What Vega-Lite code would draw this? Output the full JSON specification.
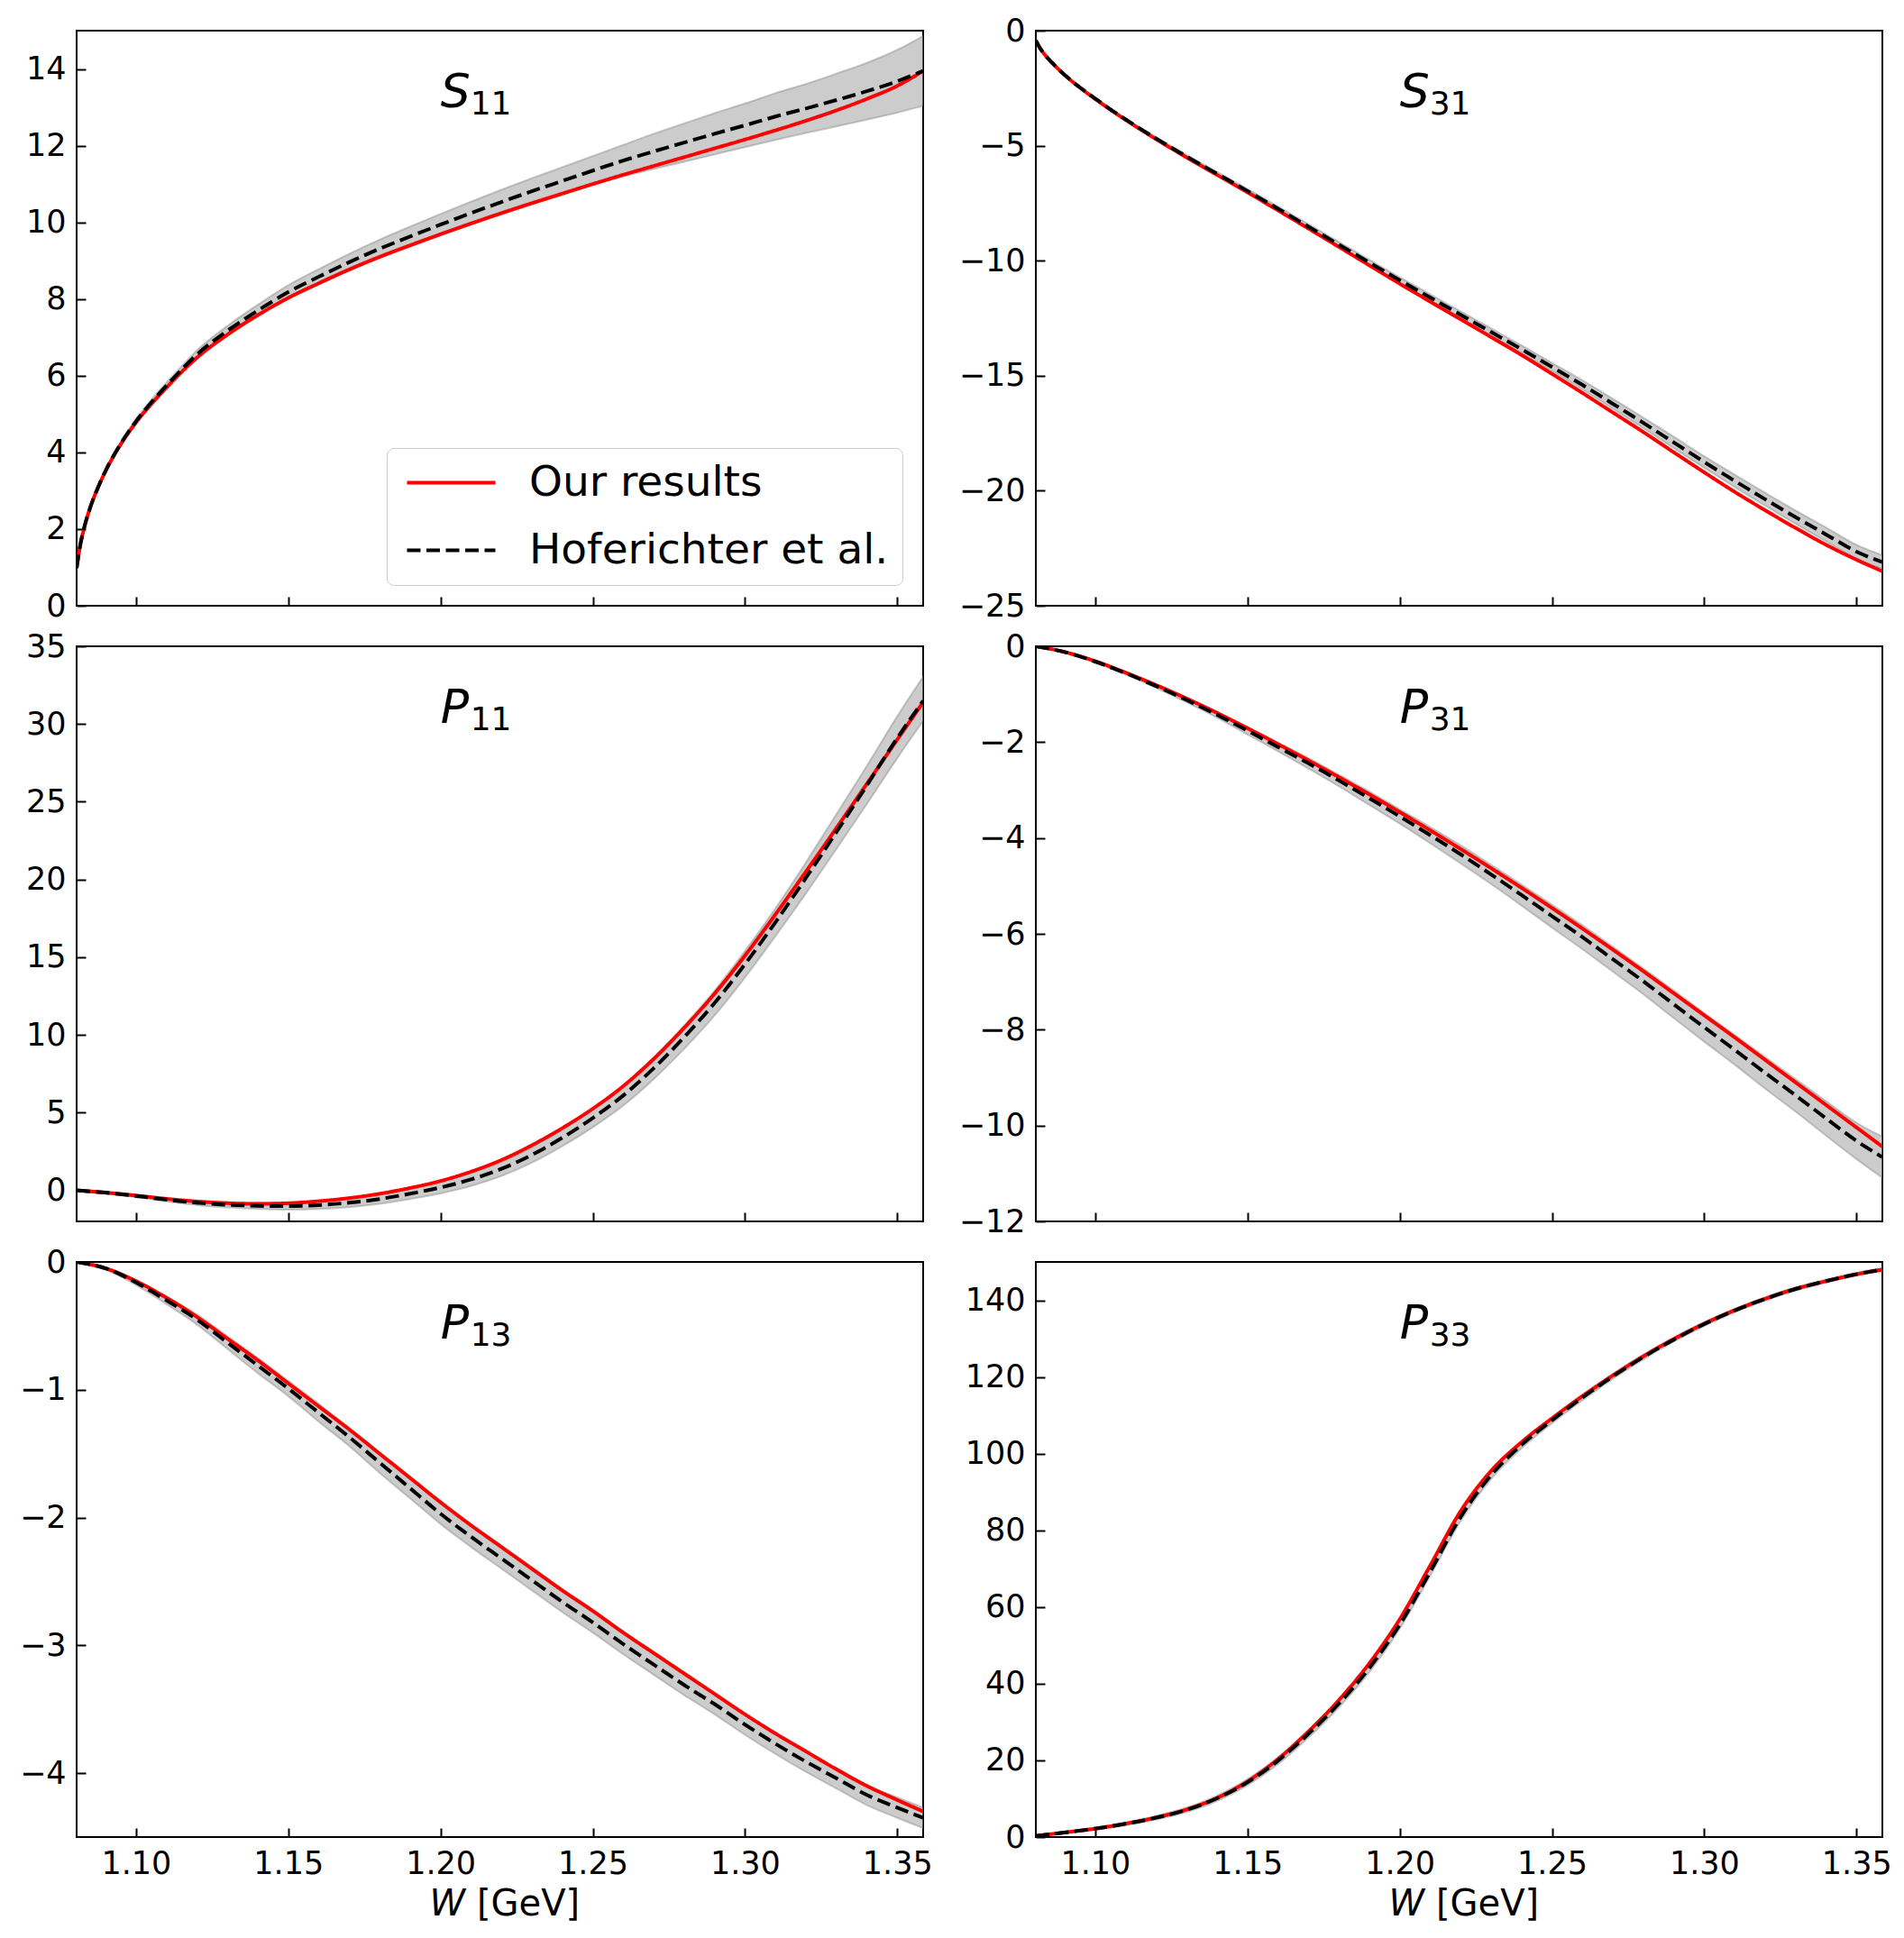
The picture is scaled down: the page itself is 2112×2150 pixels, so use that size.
{
  "$schema": "https://vega.github.io/schema/vega-lite/v6.json",
  "padding": {"left": 20, "top": 16, "right": 10, "bottom": 10},
  "bounds": "flush",
  "spacing": {"row": 45, "column": 125},
  "columns": 2,
  "datasets": {
    "curves": [
      {"p":"S11","W":1.0805,"ours":0.98,"hof":0.98,"lo":0.94,"hi":1.02},
      {"p":"S11","W":1.0815,"ours":1.5,"hof":1.5,"lo":1.46,"hi":1.54},
      {"p":"S11","W":1.083,"ours":2.04,"hof":2.04,"lo":2.0,"hi":2.08},
      {"p":"S11","W":1.085,"ours":2.57,"hof":2.57,"lo":2.53,"hi":2.61},
      {"p":"S11","W":1.0875,"ours":3.08,"hof":3.08,"lo":3.04,"hi":3.12},
      {"p":"S11","W":1.09,"ours":3.51,"hof":3.52,"lo":3.48,"hi":3.56},
      {"p":"S11","W":1.095,"ours":4.21,"hof":4.23,"lo":4.18,"hi":4.28},
      {"p":"S11","W":1.10,"ours":4.78,"hof":4.81,"lo":4.75,"hi":4.87},
      {"p":"S11","W":1.105,"ours":5.26,"hof":5.3,"lo":5.23,"hi":5.37},
      {"p":"S11","W":1.11,"ours":5.69,"hof":5.74,"lo":5.66,"hi":5.82},
      {"p":"S11","W":1.115,"ours":6.1,"hof":6.16,"lo":6.07,"hi":6.25},
      {"p":"S11","W":1.12,"ours":6.47,"hof":6.55,"lo":6.44,"hi":6.66},
      {"p":"S11","W":1.13,"ours":7.07,"hof":7.17,"lo":7.04,"hi":7.3},
      {"p":"S11","W":1.14,"ours":7.58,"hof":7.7,"lo":7.55,"hi":7.85},
      {"p":"S11","W":1.15,"ours":8.03,"hof":8.18,"lo":8.0,"hi":8.36},
      {"p":"S11","W":1.16,"ours":8.41,"hof":8.58,"lo":8.38,"hi":8.78},
      {"p":"S11","W":1.17,"ours":8.77,"hof":8.96,"lo":8.74,"hi":9.18},
      {"p":"S11","W":1.18,"ours":9.1,"hof":9.31,"lo":9.07,"hi":9.55},
      {"p":"S11","W":1.19,"ours":9.4,"hof":9.63,"lo":9.37,"hi":9.89},
      {"p":"S11","W":1.20,"ours":9.69,"hof":9.94,"lo":9.66,"hi":10.22},
      {"p":"S11","W":1.21,"ours":9.97,"hof":10.24,"lo":9.94,"hi":10.54},
      {"p":"S11","W":1.22,"ours":10.24,"hof":10.53,"lo":10.21,"hi":10.85},
      {"p":"S11","W":1.23,"ours":10.5,"hof":10.81,"lo":10.47,"hi":11.15},
      {"p":"S11","W":1.24,"ours":10.75,"hof":11.08,"lo":10.72,"hi":11.44},
      {"p":"S11","W":1.25,"ours":11.0,"hof":11.35,"lo":10.97,"hi":11.73},
      {"p":"S11","W":1.26,"ours":11.24,"hof":11.61,"lo":11.2,"hi":12.02},
      {"p":"S11","W":1.27,"ours":11.47,"hof":11.85,"lo":11.39,"hi":12.31},
      {"p":"S11","W":1.28,"ours":11.7,"hof":12.08,"lo":11.58,"hi":12.58},
      {"p":"S11","W":1.29,"ours":11.93,"hof":12.31,"lo":11.77,"hi":12.85},
      {"p":"S11","W":1.30,"ours":12.16,"hof":12.53,"lo":11.96,"hi":13.1},
      {"p":"S11","W":1.31,"ours":12.4,"hof":12.76,"lo":12.15,"hi":13.37},
      {"p":"S11","W":1.32,"ours":12.65,"hof":12.97,"lo":12.33,"hi":13.61},
      {"p":"S11","W":1.33,"ours":12.92,"hof":13.19,"lo":12.5,"hi":13.88},
      {"p":"S11","W":1.34,"ours":13.22,"hof":13.42,"lo":12.68,"hi":14.16},
      {"p":"S11","W":1.35,"ours":13.56,"hof":13.68,"lo":12.86,"hi":14.5},
      {"p":"S11","W":1.3585,"ours":13.95,"hof":13.95,"lo":13.04,"hi":14.86},

      {"p":"S31","W":1.0805,"ours":-0.42,"hof":-0.42,"lo":-0.44,"hi":-0.4},
      {"p":"S31","W":1.0815,"ours":-0.68,"hof":-0.68,"lo":-0.7,"hi":-0.66},
      {"p":"S31","W":1.083,"ours":-0.97,"hof":-0.97,"lo":-0.99,"hi":-0.95},
      {"p":"S31","W":1.085,"ours":-1.28,"hof":-1.28,"lo":-1.3,"hi":-1.26},
      {"p":"S31","W":1.0875,"ours":-1.62,"hof":-1.62,"lo":-1.64,"hi":-1.6},
      {"p":"S31","W":1.09,"ours":-1.93,"hof":-1.93,"lo":-1.95,"hi":-1.91},
      {"p":"S31","W":1.095,"ours":-2.48,"hof":-2.47,"lo":-2.5,"hi":-2.44},
      {"p":"S31","W":1.10,"ours":-2.97,"hof":-2.95,"lo":-2.99,"hi":-2.91},
      {"p":"S31","W":1.105,"ours":-3.44,"hof":-3.42,"lo":-3.46,"hi":-3.38},
      {"p":"S31","W":1.11,"ours":-3.88,"hof":-3.86,"lo":-3.9,"hi":-3.82},
      {"p":"S31","W":1.12,"ours":-4.72,"hof":-4.69,"lo":-4.75,"hi":-4.63},
      {"p":"S31","W":1.13,"ours":-5.51,"hof":-5.47,"lo":-5.54,"hi":-5.4},
      {"p":"S31","W":1.14,"ours":-6.27,"hof":-6.22,"lo":-6.3,"hi":-6.14},
      {"p":"S31","W":1.15,"ours":-7.03,"hof":-6.97,"lo":-7.06,"hi":-6.88},
      {"p":"S31","W":1.16,"ours":-7.81,"hof":-7.74,"lo":-7.84,"hi":-7.64},
      {"p":"S31","W":1.17,"ours":-8.6,"hof":-8.52,"lo":-8.63,"hi":-8.41},
      {"p":"S31","W":1.18,"ours":-9.4,"hof":-9.3,"lo":-9.42,"hi":-9.18},
      {"p":"S31","W":1.19,"ours":-10.2,"hof":-10.08,"lo":-10.2,"hi":-9.96},
      {"p":"S31","W":1.20,"ours":-11.0,"hof":-10.85,"lo":-10.98,"hi":-10.72},
      {"p":"S31","W":1.21,"ours":-11.78,"hof":-11.6,"lo":-11.74,"hi":-11.46},
      {"p":"S31","W":1.22,"ours":-12.55,"hof":-12.35,"lo":-12.5,"hi":-12.2},
      {"p":"S31","W":1.23,"ours":-13.32,"hof":-13.1,"lo":-13.26,"hi":-12.94},
      {"p":"S31","W":1.24,"ours":-14.1,"hof":-13.85,"lo":-14.02,"hi":-13.68},
      {"p":"S31","W":1.25,"ours":-14.92,"hof":-14.62,"lo":-14.8,"hi":-14.44},
      {"p":"S31","W":1.26,"ours":-15.75,"hof":-15.4,"lo":-15.6,"hi":-15.2},
      {"p":"S31","W":1.27,"ours":-16.6,"hof":-16.22,"lo":-16.44,"hi":-16.0},
      {"p":"S31","W":1.28,"ours":-17.45,"hof":-17.05,"lo":-17.28,"hi":-16.82},
      {"p":"S31","W":1.29,"ours":-18.33,"hof":-17.9,"lo":-18.15,"hi":-17.65},
      {"p":"S31","W":1.30,"ours":-19.2,"hof":-18.75,"lo":-19.0,"hi":-18.5},
      {"p":"S31","W":1.31,"ours":-20.05,"hof":-19.57,"lo":-19.84,"hi":-19.3},
      {"p":"S31","W":1.32,"ours":-20.85,"hof":-20.37,"lo":-20.65,"hi":-20.09},
      {"p":"S31","W":1.33,"ours":-21.62,"hof":-21.15,"lo":-21.44,"hi":-20.86},
      {"p":"S31","W":1.34,"ours":-22.35,"hof":-21.9,"lo":-22.2,"hi":-21.6},
      {"p":"S31","W":1.35,"ours":-23.0,"hof":-22.65,"lo":-22.95,"hi":-22.35},
      {"p":"S31","W":1.3585,"ours":-23.5,"hof":-23.1,"lo":-23.4,"hi":-22.8},

      {"p":"P11","W":1.0805,"ours":0,"hof":0,"lo":-0.05,"hi":0.05},
      {"p":"P11","W":1.09,"ours":-0.15,"hof":-0.15,"lo":-0.22,"hi":-0.08},
      {"p":"P11","W":1.10,"ours":-0.34,"hof":-0.36,"lo":-0.45,"hi":-0.27},
      {"p":"P11","W":1.11,"ours":-0.55,"hof":-0.6,"lo":-0.72,"hi":-0.48},
      {"p":"P11","W":1.12,"ours":-0.72,"hof":-0.8,"lo":-0.95,"hi":-0.65},
      {"p":"P11","W":1.13,"ours":-0.83,"hof":-0.93,"lo":-1.1,"hi":-0.76},
      {"p":"P11","W":1.14,"ours":-0.87,"hof":-1.0,"lo":-1.2,"hi":-0.8},
      {"p":"P11","W":1.15,"ours":-0.83,"hof":-1.02,"lo":-1.24,"hi":-0.8},
      {"p":"P11","W":1.16,"ours":-0.7,"hof":-0.95,"lo":-1.2,"hi":-0.7},
      {"p":"P11","W":1.17,"ours":-0.5,"hof":-0.8,"lo":-1.08,"hi":-0.52},
      {"p":"P11","W":1.18,"ours":-0.22,"hof":-0.56,"lo":-0.87,"hi":-0.25},
      {"p":"P11","W":1.19,"ours":0.15,"hof":-0.22,"lo":-0.56,"hi":0.12},
      {"p":"P11","W":1.20,"ours":0.6,"hof":0.18,"lo":-0.2,"hi":0.56},
      {"p":"P11","W":1.21,"ours":1.2,"hof":0.7,"lo":0.28,"hi":1.12},
      {"p":"P11","W":1.22,"ours":1.95,"hof":1.38,"lo":0.92,"hi":1.84},
      {"p":"P11","W":1.23,"ours":2.9,"hof":2.28,"lo":1.78,"hi":2.78},
      {"p":"P11","W":1.24,"ours":4.0,"hof":3.38,"lo":2.84,"hi":3.92},
      {"p":"P11","W":1.25,"ours":5.25,"hof":4.65,"lo":4.05,"hi":5.25},
      {"p":"P11","W":1.26,"ours":6.7,"hof":6.1,"lo":5.45,"hi":6.75},
      {"p":"P11","W":1.27,"ours":8.45,"hof":7.85,"lo":7.15,"hi":8.55},
      {"p":"P11","W":1.28,"ours":10.45,"hof":9.85,"lo":9.1,"hi":10.6},
      {"p":"P11","W":1.29,"ours":12.65,"hof":12.05,"lo":11.25,"hi":12.85},
      {"p":"P11","W":1.30,"ours":15.1,"hof":14.55,"lo":13.7,"hi":15.4},
      {"p":"P11","W":1.31,"ours":17.75,"hof":17.25,"lo":16.35,"hi":18.15},
      {"p":"P11","W":1.32,"ours":20.5,"hof":20.1,"lo":19.1,"hi":21.1},
      {"p":"P11","W":1.33,"ours":23.3,"hof":23.05,"lo":21.95,"hi":24.2},
      {"p":"P11","W":1.34,"ours":26.15,"hof":26.05,"lo":24.85,"hi":27.3},
      {"p":"P11","W":1.35,"ours":29.0,"hof":29.1,"lo":27.8,"hi":30.5},
      {"p":"P11","W":1.3585,"ours":31.4,"hof":31.5,"lo":30.2,"hi":33.05},

      {"p":"P31","W":1.0805,"ours":0,"hof":0,"lo":-0.01,"hi":0.01},
      {"p":"P31","W":1.09,"ours":-0.12,"hof":-0.12,"lo":-0.13,"hi":-0.11},
      {"p":"P31","W":1.10,"ours":-0.31,"hof":-0.32,"lo":-0.34,"hi":-0.3},
      {"p":"P31","W":1.11,"ours":-0.55,"hof":-0.56,"lo":-0.59,"hi":-0.53},
      {"p":"P31","W":1.12,"ours":-0.81,"hof":-0.83,"lo":-0.87,"hi":-0.79},
      {"p":"P31","W":1.13,"ours":-1.09,"hof":-1.12,"lo":-1.17,"hi":-1.07},
      {"p":"P31","W":1.14,"ours":-1.39,"hof":-1.43,"lo":-1.49,"hi":-1.37},
      {"p":"P31","W":1.15,"ours":-1.71,"hof":-1.76,"lo":-1.84,"hi":-1.68},
      {"p":"P31","W":1.16,"ours":-2.04,"hof":-2.1,"lo":-2.19,"hi":-2.01},
      {"p":"P31","W":1.17,"ours":-2.38,"hof":-2.44,"lo":-2.55,"hi":-2.33},
      {"p":"P31","W":1.18,"ours":-2.73,"hof":-2.8,"lo":-2.92,"hi":-2.68},
      {"p":"P31","W":1.19,"ours":-3.09,"hof":-3.17,"lo":-3.31,"hi":-3.03},
      {"p":"P31","W":1.20,"ours":-3.46,"hof":-3.55,"lo":-3.7,"hi":-3.4},
      {"p":"P31","W":1.21,"ours":-3.84,"hof":-3.94,"lo":-4.11,"hi":-3.77},
      {"p":"P31","W":1.22,"ours":-4.23,"hof":-4.34,"lo":-4.53,"hi":-4.15},
      {"p":"P31","W":1.23,"ours":-4.63,"hof":-4.76,"lo":-4.96,"hi":-4.56},
      {"p":"P31","W":1.24,"ours":-5.04,"hof":-5.19,"lo":-5.41,"hi":-4.97},
      {"p":"P31","W":1.25,"ours":-5.46,"hof":-5.63,"lo":-5.87,"hi":-5.39},
      {"p":"P31","W":1.26,"ours":-5.89,"hof":-6.07,"lo":-6.32,"hi":-5.82},
      {"p":"P31","W":1.27,"ours":-6.33,"hof":-6.53,"lo":-6.79,"hi":-6.27},
      {"p":"P31","W":1.28,"ours":-6.78,"hof":-6.99,"lo":-7.26,"hi":-6.72},
      {"p":"P31","W":1.29,"ours":-7.24,"hof":-7.47,"lo":-7.76,"hi":-7.18},
      {"p":"P31","W":1.30,"ours":-7.7,"hof":-7.95,"lo":-8.25,"hi":-7.65},
      {"p":"P31","W":1.31,"ours":-8.16,"hof":-8.42,"lo":-8.73,"hi":-8.11},
      {"p":"P31","W":1.32,"ours":-8.63,"hof":-8.9,"lo":-9.23,"hi":-8.57},
      {"p":"P31","W":1.33,"ours":-9.1,"hof":-9.37,"lo":-9.71,"hi":-9.03},
      {"p":"P31","W":1.34,"ours":-9.57,"hof":-9.85,"lo":-10.21,"hi":-9.49},
      {"p":"P31","W":1.35,"ours":-10.04,"hof":-10.32,"lo":-10.7,"hi":-9.94},
      {"p":"P31","W":1.3585,"ours":-10.44,"hof":-10.66,"lo":-11.09,"hi":-10.23},

      {"p":"P13","W":1.0805,"ours":0,"hof":0,"lo":-0.005,"hi":0.005},
      {"p":"P13","W":1.09,"ours":-0.05,"hof":-0.05,"lo":-0.06,"hi":-0.04},
      {"p":"P13","W":1.10,"ours":-0.15,"hof":-0.16,"lo":-0.18,"hi":-0.14},
      {"p":"P13","W":1.11,"ours":-0.28,"hof":-0.3,"lo":-0.33,"hi":-0.27},
      {"p":"P13","W":1.12,"ours":-0.43,"hof":-0.45,"lo":-0.49,"hi":-0.41},
      {"p":"P13","W":1.13,"ours":-0.6,"hof":-0.63,"lo":-0.68,"hi":-0.58},
      {"p":"P13","W":1.14,"ours":-0.77,"hof":-0.81,"lo":-0.87,"hi":-0.75},
      {"p":"P13","W":1.15,"ours":-0.95,"hof":-0.99,"lo":-1.05,"hi":-0.93},
      {"p":"P13","W":1.16,"ours":-1.13,"hof":-1.18,"lo":-1.25,"hi":-1.11},
      {"p":"P13","W":1.17,"ours":-1.31,"hof":-1.37,"lo":-1.44,"hi":-1.3},
      {"p":"P13","W":1.18,"ours":-1.5,"hof":-1.57,"lo":-1.65,"hi":-1.49},
      {"p":"P13","W":1.19,"ours":-1.69,"hof":-1.77,"lo":-1.85,"hi":-1.69},
      {"p":"P13","W":1.20,"ours":-1.88,"hof":-1.97,"lo":-2.05,"hi":-1.89},
      {"p":"P13","W":1.21,"ours":-2.06,"hof":-2.15,"lo":-2.23,"hi":-2.07},
      {"p":"P13","W":1.22,"ours":-2.23,"hof":-2.32,"lo":-2.4,"hi":-2.24},
      {"p":"P13","W":1.23,"ours":-2.4,"hof":-2.49,"lo":-2.57,"hi":-2.41},
      {"p":"P13","W":1.24,"ours":-2.57,"hof":-2.66,"lo":-2.74,"hi":-2.58},
      {"p":"P13","W":1.25,"ours":-2.73,"hof":-2.82,"lo":-2.9,"hi":-2.74},
      {"p":"P13","W":1.26,"ours":-2.9,"hof":-2.99,"lo":-3.07,"hi":-2.91},
      {"p":"P13","W":1.27,"ours":-3.06,"hof":-3.15,"lo":-3.23,"hi":-3.07},
      {"p":"P13","W":1.28,"ours":-3.22,"hof":-3.31,"lo":-3.39,"hi":-3.23},
      {"p":"P13","W":1.29,"ours":-3.38,"hof":-3.46,"lo":-3.54,"hi":-3.38},
      {"p":"P13","W":1.30,"ours":-3.54,"hof":-3.62,"lo":-3.7,"hi":-3.54},
      {"p":"P13","W":1.31,"ours":-3.69,"hof":-3.77,"lo":-3.85,"hi":-3.69},
      {"p":"P13","W":1.32,"ours":-3.83,"hof":-3.91,"lo":-3.99,"hi":-3.83},
      {"p":"P13","W":1.33,"ours":-3.97,"hof":-4.04,"lo":-4.12,"hi":-3.96},
      {"p":"P13","W":1.34,"ours":-4.1,"hof":-4.17,"lo":-4.25,"hi":-4.09},
      {"p":"P13","W":1.35,"ours":-4.21,"hof":-4.27,"lo":-4.35,"hi":-4.19},
      {"p":"P13","W":1.3585,"ours":-4.3,"hof":-4.35,"lo":-4.43,"hi":-4.27},

      {"p":"P33","W":1.0805,"ours":0.3,"hof":0.3,"lo":0.2,"hi":0.4},
      {"p":"P33","W":1.09,"ours":1.2,"hof":1.2,"lo":1.0,"hi":1.4},
      {"p":"P33","W":1.10,"ours":2.2,"hof":2.2,"lo":1.9,"hi":2.5},
      {"p":"P33","W":1.11,"ours":3.5,"hof":3.45,"lo":3.05,"hi":3.85},
      {"p":"P33","W":1.12,"ours":5.1,"hof":5.05,"lo":4.55,"hi":5.55},
      {"p":"P33","W":1.13,"ours":7.2,"hof":7.1,"lo":6.5,"hi":7.7},
      {"p":"P33","W":1.14,"ours":10.2,"hof":10.1,"lo":9.4,"hi":10.8},
      {"p":"P33","W":1.15,"ours":14.5,"hof":14.3,"lo":13.5,"hi":15.1},
      {"p":"P33","W":1.16,"ours":20.3,"hof":19.9,"lo":19.0,"hi":20.8},
      {"p":"P33","W":1.17,"ours":27.5,"hof":26.9,"lo":25.9,"hi":27.9},
      {"p":"P33","W":1.18,"ours":35.7,"hof":34.8,"lo":33.8,"hi":35.8},
      {"p":"P33","W":1.19,"ours":45.3,"hof":44.1,"lo":43.0,"hi":45.2},
      {"p":"P33","W":1.20,"ours":56.8,"hof":55.4,"lo":54.3,"hi":56.5},
      {"p":"P33","W":1.21,"ours":70.8,"hof":69.2,"lo":68.1,"hi":70.3},
      {"p":"P33","W":1.22,"ours":85.0,"hof":83.5,"lo":82.4,"hi":84.6},
      {"p":"P33","W":1.23,"ours":95.5,"hof":94.4,"lo":93.4,"hi":95.4},
      {"p":"P33","W":1.24,"ours":103.0,"hof":102.3,"lo":101.4,"hi":103.2},
      {"p":"P33","W":1.25,"ours":109.2,"hof":108.7,"lo":107.9,"hi":109.5},
      {"p":"P33","W":1.26,"ours":115.0,"hof":114.65,"lo":113.9,"hi":115.4},
      {"p":"P33","W":1.27,"ours":120.4,"hof":120.15,"lo":119.5,"hi":120.8},
      {"p":"P33","W":1.28,"ours":125.4,"hof":125.2,"lo":124.6,"hi":125.8},
      {"p":"P33","W":1.29,"ours":129.9,"hof":129.75,"lo":129.2,"hi":130.3},
      {"p":"P33","W":1.30,"ours":133.9,"hof":133.8,"lo":133.3,"hi":134.3},
      {"p":"P33","W":1.31,"ours":137.4,"hof":137.35,"lo":136.9,"hi":137.8},
      {"p":"P33","W":1.32,"ours":140.4,"hof":140.35,"lo":139.9,"hi":140.8},
      {"p":"P33","W":1.33,"ours":143.0,"hof":142.95,"lo":142.5,"hi":143.4},
      {"p":"P33","W":1.34,"ours":145.0,"hof":145.0,"lo":144.6,"hi":145.4},
      {"p":"P33","W":1.35,"ours":146.8,"hof":146.8,"lo":146.4,"hi":147.2},
      {"p":"P33","W":1.3585,"ours":148.0,"hof":148.0,"lo":147.6,"hi":148.4}
    ]
  },
  "resolve": {
    "scale": {"color": "independent", "strokeDash": "independent"},
    "legend": {"color": "independent", "strokeDash": "independent"}
  },
  "concat": [
    {
      "width": 939, "height": 638,
      "layer": [
        {"data": {"name": "curves"}, "transform": [{"filter": "datum.p == 'S11'"}],
         "mark": {"type": "area", "fill": "#808080", "fillOpacity": 0.4, "stroke": "#808080", "strokeOpacity": 0.4, "strokeWidth": 2, "interpolate": "monotone", "clip": true},
         "encoding": {
           "x": {"field": "W", "type": "quantitative", "scale": {"domain": [1.0805, 1.3585], "nice": false}, "axis": {"values": [1.1, 1.15, 1.2, 1.25, 1.3, 1.35], "labels": false}},
           "y": {"field": "lo", "type": "quantitative", "scale": {"domain": [0, 15], "nice": false}, "axis": {"values": [0, 2, 4, 6, 8, 10, 12, 14], "format": "d"}}, "y2": {"field": "hi"}}},
        {"data": {"name": "curves"}, "transform": [{"filter": "datum.p == 'S11'"}, {"fold": ["ours", "hof"], "as": ["s", "v"]}],
         "mark": {"type": "line", "strokeWidth": 4, "interpolate": "monotone", "clip": true},
         "encoding": {
           "x": {"field": "W", "type": "quantitative"},
           "y": {"field": "v", "type": "quantitative"},
           "color": {"field": "s", "type": "nominal", "scale": {"domain": ["ours", "hof"], "range": ["#ff0000", "#000000"]},
             "legend": {"orient": "bottom-right", "offset": 23, "title": null, "labelExpr": "datum.value == 'ours' ? 'Our results' : 'Hoferichter et al.'",
               "labelFont": "DejaVu Sans", "labelFontSize": 47, "labelColor": "black", "labelLimit": 0, "symbolType": "M-3,0H3", "symbolSize": 1067, "symbolStrokeWidth": 4,
               "symbolOffset": 33, "labelOffset": 63, "padding": 15, "rowPadding": 27, "fillColor": "white", "strokeColor": "#cccccc", "cornerRadius": 8}},
           "strokeDash": {"field": "s", "type": "nominal", "scale": {"domain": ["ours", "hof"], "range": [[1, 0], [15, 6.5]]},
             "legend": {"orient": "bottom-right", "offset": 23, "title": null, "labelExpr": "datum.value == 'ours' ? 'Our results' : 'Hoferichter et al.'",
               "labelFont": "DejaVu Sans", "labelFontSize": 47, "labelColor": "black", "labelLimit": 0, "symbolType": "M-3,0H3", "symbolSize": 1067, "symbolStrokeWidth": 4,
               "symbolOffset": 33, "labelOffset": 63, "padding": 15, "rowPadding": 27, "fillColor": "white", "strokeColor": "#cccccc", "cornerRadius": 8}}
         }},
        {"data": {"values": [{"t": "S"}]}, "mark": {"type": "text", "fontStyle": "italic", "fontSize": 52, "align": "left", "baseline": "alphabetic"},
         "encoding": {"text": {"field": "t"}, "x": {"datum": 1.2}, "y": {"datum": 13.0}}},
        {"data": {"values": [{"t": "11"}]}, "mark": {"type": "text", "fontSize": 36, "align": "left", "baseline": "alphabetic", "dx": 33, "dy": 8},
         "encoding": {"text": {"field": "t"}, "x": {"datum": 1.2}, "y": {"datum": 13.0}}}
      ]
    },
    {
      "width": 939, "height": 638,
      "layer": [
        {"data": {"name": "curves"}, "transform": [{"filter": "datum.p == 'S31'"}],
         "mark": {"type": "area", "fill": "#808080", "fillOpacity": 0.4, "stroke": "#808080", "strokeOpacity": 0.4, "strokeWidth": 2, "interpolate": "monotone", "clip": true},
         "encoding": {
           "x": {"field": "W", "type": "quantitative", "scale": {"domain": [1.0805, 1.3585], "nice": false}, "axis": {"values": [1.1, 1.15, 1.2, 1.25, 1.3, 1.35], "labels": false}},
           "y": {"field": "lo", "type": "quantitative", "scale": {"domain": [-25, 0], "nice": false}, "axis": {"values": [-25, -20, -15, -10, -5, 0], "format": "d"}}, "y2": {"field": "hi"}}},
        {"data": {"name": "curves"}, "transform": [{"filter": "datum.p == 'S31'"}, {"fold": ["ours", "hof"], "as": ["s", "v"]}],
         "mark": {"type": "line", "strokeWidth": 4, "interpolate": "monotone", "clip": true},
         "encoding": {
           "x": {"field": "W", "type": "quantitative"},
           "y": {"field": "v", "type": "quantitative"},
           "color": {"field": "s", "type": "nominal", "scale": {"domain": ["ours", "hof"], "range": ["#ff0000", "#000000"]}, "legend": null},
           "strokeDash": {"field": "s", "type": "nominal", "scale": {"domain": ["ours", "hof"], "range": [[1, 0], [15, 6.5]]}, "legend": null}
         }},
        {"data": {"values": [{"t": "S"}]}, "mark": {"type": "text", "fontStyle": "italic", "fontSize": 52, "align": "left", "baseline": "alphabetic"},
         "encoding": {"text": {"field": "t"}, "x": {"datum": 1.2}, "y": {"datum": -3.33}}},
        {"data": {"values": [{"t": "31"}]}, "mark": {"type": "text", "fontSize": 36, "align": "left", "baseline": "alphabetic", "dx": 33, "dy": 8},
         "encoding": {"text": {"field": "t"}, "x": {"datum": 1.2}, "y": {"datum": -3.33}}}
      ]
    },
    {
      "width": 939, "height": 638,
      "layer": [
        {"data": {"name": "curves"}, "transform": [{"filter": "datum.p == 'P11'"}],
         "mark": {"type": "area", "fill": "#808080", "fillOpacity": 0.4, "stroke": "#808080", "strokeOpacity": 0.4, "strokeWidth": 2, "interpolate": "monotone", "clip": true},
         "encoding": {
           "x": {"field": "W", "type": "quantitative", "scale": {"domain": [1.0805, 1.3585], "nice": false}, "axis": {"values": [1.1, 1.15, 1.2, 1.25, 1.3, 1.35], "labels": false}},
           "y": {"field": "lo", "type": "quantitative", "scale": {"domain": [-2, 35], "nice": false}, "axis": {"values": [0, 5, 10, 15, 20, 25, 30, 35], "format": "d"}}, "y2": {"field": "hi"}}},
        {"data": {"name": "curves"}, "transform": [{"filter": "datum.p == 'P11'"}, {"fold": ["ours", "hof"], "as": ["s", "v"]}],
         "mark": {"type": "line", "strokeWidth": 4, "interpolate": "monotone", "clip": true},
         "encoding": {
           "x": {"field": "W", "type": "quantitative"},
           "y": {"field": "v", "type": "quantitative"},
           "color": {"field": "s", "type": "nominal", "scale": {"domain": ["ours", "hof"], "range": ["#ff0000", "#000000"]}, "legend": null},
           "strokeDash": {"field": "s", "type": "nominal", "scale": {"domain": ["ours", "hof"], "range": [[1, 0], [15, 6.5]]}, "legend": null}
         }},
        {"data": {"values": [{"t": "P"}]}, "mark": {"type": "text", "fontStyle": "italic", "fontSize": 52, "align": "left", "baseline": "alphabetic"},
         "encoding": {"text": {"field": "t"}, "x": {"datum": 1.2}, "y": {"datum": 30.08}}},
        {"data": {"values": [{"t": "11"}]}, "mark": {"type": "text", "fontSize": 36, "align": "left", "baseline": "alphabetic", "dx": 33, "dy": 8},
         "encoding": {"text": {"field": "t"}, "x": {"datum": 1.2}, "y": {"datum": 30.08}}}
      ]
    },
    {
      "width": 939, "height": 638,
      "layer": [
        {"data": {"name": "curves"}, "transform": [{"filter": "datum.p == 'P31'"}],
         "mark": {"type": "area", "fill": "#808080", "fillOpacity": 0.4, "stroke": "#808080", "strokeOpacity": 0.4, "strokeWidth": 2, "interpolate": "monotone", "clip": true},
         "encoding": {
           "x": {"field": "W", "type": "quantitative", "scale": {"domain": [1.0805, 1.3585], "nice": false}, "axis": {"values": [1.1, 1.15, 1.2, 1.25, 1.3, 1.35], "labels": false}},
           "y": {"field": "lo", "type": "quantitative", "scale": {"domain": [-12, 0], "nice": false}, "axis": {"values": [-12, -10, -8, -6, -4, -2, 0], "format": "d"}}, "y2": {"field": "hi"}}},
        {"data": {"name": "curves"}, "transform": [{"filter": "datum.p == 'P31'"}, {"fold": ["ours", "hof"], "as": ["s", "v"]}],
         "mark": {"type": "line", "strokeWidth": 4, "interpolate": "monotone", "clip": true},
         "encoding": {
           "x": {"field": "W", "type": "quantitative"},
           "y": {"field": "v", "type": "quantitative"},
           "color": {"field": "s", "type": "nominal", "scale": {"domain": ["ours", "hof"], "range": ["#ff0000", "#000000"]}, "legend": null},
           "strokeDash": {"field": "s", "type": "nominal", "scale": {"domain": ["ours", "hof"], "range": [[1, 0], [15, 6.5]]}, "legend": null}
         }},
        {"data": {"values": [{"t": "P"}]}, "mark": {"type": "text", "fontStyle": "italic", "fontSize": 52, "align": "left", "baseline": "alphabetic"},
         "encoding": {"text": {"field": "t"}, "x": {"datum": 1.2}, "y": {"datum": -1.6}}},
        {"data": {"values": [{"t": "31"}]}, "mark": {"type": "text", "fontSize": 36, "align": "left", "baseline": "alphabetic", "dx": 33, "dy": 8},
         "encoding": {"text": {"field": "t"}, "x": {"datum": 1.2}, "y": {"datum": -1.6}}}
      ]
    },
    {
      "width": 939, "height": 638,
      "layer": [
        {"data": {"name": "curves"}, "transform": [{"filter": "datum.p == 'P13'"}],
         "mark": {"type": "area", "fill": "#808080", "fillOpacity": 0.4, "stroke": "#808080", "strokeOpacity": 0.4, "strokeWidth": 2, "interpolate": "monotone", "clip": true},
         "encoding": {
           "x": {"field": "W", "type": "quantitative", "scale": {"domain": [1.0805, 1.3585], "nice": false}, "axis": {"values": [1.1, 1.15, 1.2, 1.25, 1.3, 1.35], "format": ".2f"}},
           "y": {"field": "lo", "type": "quantitative", "scale": {"domain": [-4.5, 0], "nice": false}, "axis": {"values": [-4, -3, -2, -1, 0], "format": "d"}}, "y2": {"field": "hi"}}},
        {"data": {"name": "curves"}, "transform": [{"filter": "datum.p == 'P13'"}, {"fold": ["ours", "hof"], "as": ["s", "v"]}],
         "mark": {"type": "line", "strokeWidth": 4, "interpolate": "monotone", "clip": true},
         "encoding": {
           "x": {"field": "W", "type": "quantitative"},
           "y": {"field": "v", "type": "quantitative"},
           "color": {"field": "s", "type": "nominal", "scale": {"domain": ["ours", "hof"], "range": ["#ff0000", "#000000"]}, "legend": null},
           "strokeDash": {"field": "s", "type": "nominal", "scale": {"domain": ["ours", "hof"], "range": [[1, 0], [15, 6.5]]}, "legend": null}
         }},
        {"data": {"values": [{"t": "P"}]}, "mark": {"type": "text", "fontStyle": "italic", "fontSize": 52, "align": "left", "baseline": "alphabetic"},
         "encoding": {"text": {"field": "t"}, "x": {"datum": 1.2}, "y": {"datum": -0.6}}},
        {"data": {"values": [{"t": "13"}]}, "mark": {"type": "text", "fontSize": 36, "align": "left", "baseline": "alphabetic", "dx": 33, "dy": 8},
         "encoding": {"text": {"field": "t"}, "x": {"datum": 1.2}, "y": {"datum": -0.6}}},
        {"data": {"values": [{"t": "W"}]}, "mark": {"type": "text", "fontStyle": "italic", "fontSize": 40, "align": "right", "baseline": "alphabetic"},
         "encoding": {"text": {"field": "t"}, "x": {"datum": 1.2081}, "y": {"datum": -5.114}}},
        {"data": {"values": [{"t": "[GeV]"}]}, "mark": {"type": "text", "fontSize": 40, "align": "left", "baseline": "alphabetic", "dx": 13},
         "encoding": {"text": {"field": "t"}, "x": {"datum": 1.2081}, "y": {"datum": -5.114}}}
      ]
    },
    {
      "width": 939, "height": 638,
      "layer": [
        {"data": {"name": "curves"}, "transform": [{"filter": "datum.p == 'P33'"}],
         "mark": {"type": "area", "fill": "#808080", "fillOpacity": 0.4, "stroke": "#808080", "strokeOpacity": 0.4, "strokeWidth": 2, "interpolate": "monotone", "clip": true},
         "encoding": {
           "x": {"field": "W", "type": "quantitative", "scale": {"domain": [1.0805, 1.3585], "nice": false}, "axis": {"values": [1.1, 1.15, 1.2, 1.25, 1.3, 1.35], "format": ".2f"}},
           "y": {"field": "lo", "type": "quantitative", "scale": {"domain": [0, 150], "nice": false}, "axis": {"values": [0, 20, 40, 60, 80, 100, 120, 140], "format": "d"}}, "y2": {"field": "hi"}}},
        {"data": {"name": "curves"}, "transform": [{"filter": "datum.p == 'P33'"}, {"fold": ["ours", "hof"], "as": ["s", "v"]}],
         "mark": {"type": "line", "strokeWidth": 4, "interpolate": "monotone", "clip": true},
         "encoding": {
           "x": {"field": "W", "type": "quantitative"},
           "y": {"field": "v", "type": "quantitative"},
           "color": {"field": "s", "type": "nominal", "scale": {"domain": ["ours", "hof"], "range": ["#ff0000", "#000000"]}, "legend": null},
           "strokeDash": {"field": "s", "type": "nominal", "scale": {"domain": ["ours", "hof"], "range": [[1, 0], [15, 6.5]]}, "legend": null}
         }},
        {"data": {"values": [{"t": "P"}]}, "mark": {"type": "text", "fontStyle": "italic", "fontSize": 52, "align": "left", "baseline": "alphabetic"},
         "encoding": {"text": {"field": "t"}, "x": {"datum": 1.2}, "y": {"datum": 130}}},
        {"data": {"values": [{"t": "33"}]}, "mark": {"type": "text", "fontSize": 36, "align": "left", "baseline": "alphabetic", "dx": 33, "dy": 8},
         "encoding": {"text": {"field": "t"}, "x": {"datum": 1.2}, "y": {"datum": 130}}},
        {"data": {"values": [{"t": "W"}]}, "mark": {"type": "text", "fontStyle": "italic", "fontSize": 40, "align": "right", "baseline": "alphabetic"},
         "encoding": {"text": {"field": "t"}, "x": {"datum": 1.2081}, "y": {"datum": -20.46}}},
        {"data": {"values": [{"t": "[GeV]"}]}, "mark": {"type": "text", "fontSize": 40, "align": "left", "baseline": "alphabetic", "dx": 13},
         "encoding": {"text": {"field": "t"}, "x": {"datum": 1.2081}, "y": {"datum": -20.46}}}
      ]
    }
  ],
  "config": {
    "font": "DejaVu Sans",
    "view": {"stroke": "black", "strokeWidth": 2},
    "axis": {
      "title": null, "grid": false, "domain": false,
      "labelFont": "DejaVu Sans", "labelFontSize": 35, "labelColor": "black",
      "tickColor": "black", "tickWidth": 2, "tickSize": -10,
      "labelPadding": 22, "labelOverlap": false, "labelBound": false, "labelFlush": false
    },
    "text": {"font": "DejaVu Sans", "color": "black"}
  }
}
